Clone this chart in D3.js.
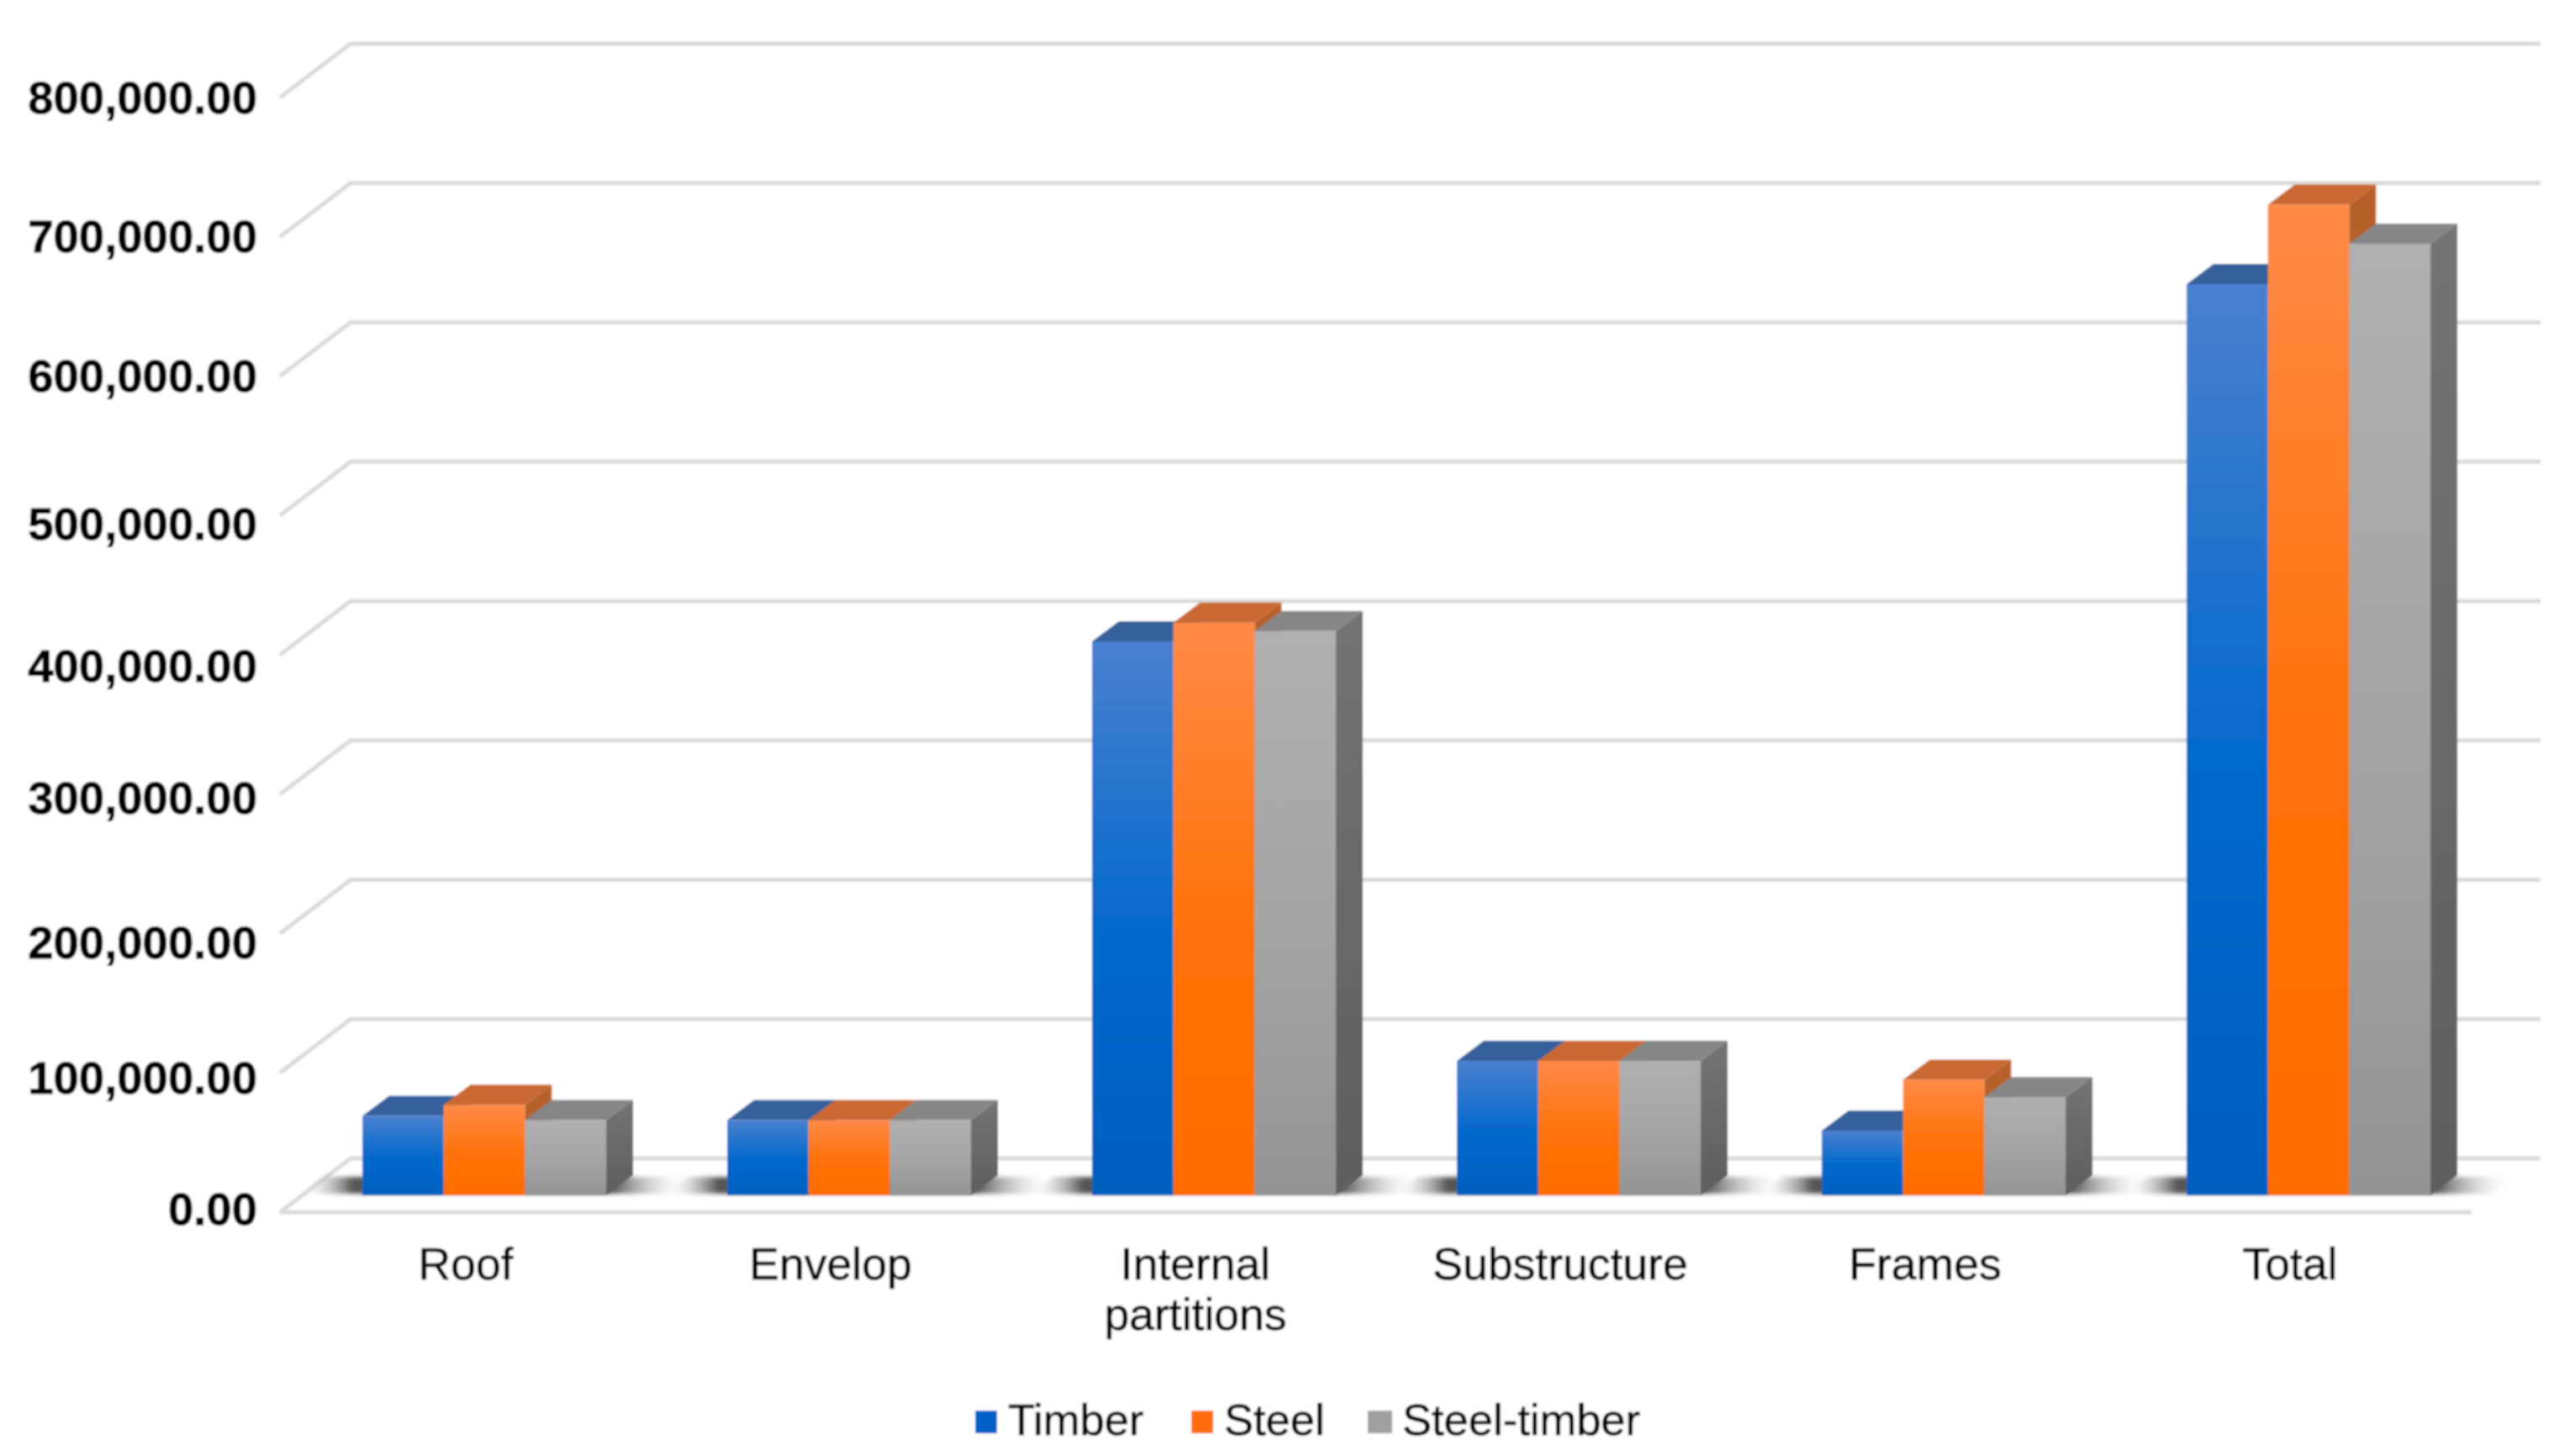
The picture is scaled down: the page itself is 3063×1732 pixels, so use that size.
<!DOCTYPE html>
<html>
<head>
<meta charset="utf-8">
<style>
  html, body { margin: 0; padding: 0; background: #fff; }
  svg { display: block; }
  text { font-family: "Liberation Sans", Arial, sans-serif; }
</style>
<script src="https://cdn.jsdelivr.net/npm/d3@7"></script>
</head>
<body>
<svg id="chart" width="3063" height="1732"></svg>
<script>
'use strict';

const categories = ['Roof', 'Envelop', 'Internal partitions', 'Substructure', 'Frames', 'Total'];
const seriesNames = ['Timber', 'Steel', 'Steel-timber'];
const timber = [57000, 54000, 397600, 96500, 46500, 654000];
const steel = [65000, 54000, 411000, 96500, 83000, 711000];
const steelTimber = [54000, 54000, 405000, 96500, 70500, 683000];
const yTicks = [0, 100000, 200000, 300000, 400000, 500000, 600000, 700000, 800000];

const seriesValues = [timber, steel, steelTimber];

// the original labels wander a bit off their gridlines
const tickLabelShift = [-3, 7, 12, 5, 14, 11, 1, 0, 1];

const colours = [
  { top: '#4a80cf', mid: '#0068cc', bottom: '#0060c0', cap: '#35609c', side: '#2a5a98', key: '#0060c8' },
  { top: '#ff8a47', mid: '#ff7208', bottom: '#ff6c00', cap: '#c96830', side: '#b8602c', key: '#ff6c10' },
  { top: '#b0b0b0', mid: '#a4a4a4', bottom: '#949494', cap: '#868686', side: '#747474', sideLow: '#5e5e5e', key: '#a0a0a0' }
];

const svg = d3.select('#chart');

// the bars stand on a plane between the front floor edge and the back wall
const x = d3.scaleBand().domain(categories).range([359, 2963]);
const y = d3.scaleLinear().domain([0, 800000]).range([1422, 96]);

const barWidth = 96.7;
const depthX = 32;
const depthY = 24;

const frontOffset = { x: -26, y: 20 };
const backOffset = { x: 58, y: -44 };
const backRight = 3022;
const frontRight = 2940;

const defs = svg.append('defs');

defs.append('filter')
    .attr('id', 'soft')
    .attr('x', 0).attr('y', 0).attr('width', 1).attr('height', 1)
    .attr('filterUnits', 'objectBoundingBox')
  .append('feGaussianBlur')
    .attr('stdDeviation', 1.3);

defs.append('filter')
    .attr('id', 'softer')
    .attr('x', -0.1).attr('y', -0.5).attr('width', 1.2).attr('height', 2)
  .append('feGaussianBlur')
    .attr('stdDeviation', 2.5);

colours.forEach((c, i) => {
  const g = defs.append('linearGradient')
      .attr('id', `front${i}`)
      .attr('x1', 0).attr('y1', 0).attr('x2', 0).attr('y2', 1);
  g.append('stop').attr('offset', 0).attr('stop-color', c.top);
  g.append('stop').attr('offset', 0.55).attr('stop-color', c.mid);
  g.append('stop').attr('offset', 1).attr('stop-color', c.bottom);

  const s = defs.append('linearGradient')
      .attr('id', `side${i}`)
      .attr('x1', 0).attr('y1', 0).attr('x2', 0).attr('y2', 1);
  s.append('stop').attr('offset', 0).attr('stop-color', c.side);
  s.append('stop').attr('offset', 1).attr('stop-color', c.sideLow || c.side);
});

const shadowGrad = defs.append('linearGradient')
    .attr('id', 'shadow')
    .attr('x1', 0).attr('y1', 0).attr('x2', 1).attr('y2', 0);
[[0, '#fff', 0], [0.14, '#555', 1], [0.8, '#555', 1], [1, '#fff', 0]].forEach(s => {
  shadowGrad.append('stop')
      .attr('offset', s[0])
      .attr('stop-color', s[1])
      .attr('stop-opacity', s[2]);
});

const chart = svg.append('g').attr('filter', 'url(#soft)');

chart.append('rect')
    .attr('width', 3063)
    .attr('height', 1732)
    .attr('fill', '#fff');

// walls
const grid = chart.append('g').attr('class', 'grid');

const gridLine = d3.line();

grid.selectAll('path')
  .data(yTicks)
  .enter()
  .append('path')
    .attr('fill', 'none')
    .attr('stroke', '#dadada')
    .attr('stroke-width', 5)
    .attr('d', d => gridLine([
      [x.range()[0] + frontOffset.x, y(d) + frontOffset.y],
      [x.range()[0] + backOffset.x, y(d) + backOffset.y],
      [backRight, y(d) + backOffset.y]
    ]));

grid.append('line')
    .attr('x1', x.range()[0] + frontOffset.x)
    .attr('x2', frontRight)
    .attr('y1', y(0) + frontOffset.y)
    .attr('y2', y(0) + frontOffset.y)
    .attr('stroke', '#dadada')
    .attr('stroke-width', 5);

// floor shadows
const barLeft = c => x(c) + x.bandwidth() / 2 - barWidth * 1.5;

chart.append('g')
  .selectAll('path')
  .data(categories)
  .enter()
  .append('path')
    .attr('fill', 'url(#shadow)')
    .attr('filter', 'url(#softer)')
    .attr('d', c => {
      const l = barLeft(c);
      const r = l + barWidth * 3;
      return gridLine([[l - 76, y(0) - 2], [l - 46, y(0) - 22], [r + 100, y(0) - 22], [r + 74, y(0) - 2]]) + 'Z';
    });

// bars
const barGroups = chart.selectAll('g.category')
  .data(categories)
  .enter()
  .append('g')
    .attr('class', 'category');

seriesNames.forEach((name, i) => {
  const bar = barGroups.append('g').attr('class', `bar ${name}`);
  const value = c => seriesValues[i][categories.indexOf(c)];
  const left = c => barLeft(c) + i * barWidth;

  bar.append('path')
      .attr('fill', `url(#side${i})`)
      .attr('d', c => gridLine([
        [left(c) + barWidth, y(value(c))],
        [left(c) + barWidth + depthX, y(value(c)) - depthY],
        [left(c) + barWidth + depthX, y(0) - depthY],
        [left(c) + barWidth, y(0)]
      ]) + 'Z');

  bar.append('path')
      .attr('fill', colours[i].cap)
      .attr('d', c => gridLine([
        [left(c), y(value(c))],
        [left(c) + depthX, y(value(c)) - depthY],
        [left(c) + barWidth + depthX, y(value(c)) - depthY],
        [left(c) + barWidth, y(value(c))]
      ]) + 'Z');

  bar.append('rect')
      .attr('x', left)
      .attr('y', c => y(value(c)))
      .attr('width', barWidth)
      .attr('height', c => y(0) - y(value(c)))
      .attr('fill', `url(#front${i})`);
});

// axes
const yAxis = chart.append('g')
    .attr('transform', `translate(306, ${frontOffset.y})`)
    .call(d3.axisLeft(y).tickValues(yTicks).tickFormat(d3.format(',.2f')).tickSize(0).tickPadding(0));

yAxis.select('.domain').remove();
yAxis.selectAll('text')
    .attr('font-family', '"Liberation Sans", Arial, sans-serif')
    .attr('font-size', 54.5)
    .attr('font-weight', 700)
    .attr('fill', '#000')
    .attr('stroke', '#000')
    .attr('stroke-width', 0.8)
    .attr('transform', (d, i) => `translate(0, ${tickLabelShift[i]})`);

const xAxis = chart.append('g')
    .attr('transform', `translate(-22, ${y(0) + frontOffset.y})`)
    .call(d3.axisBottom(x).tickSize(0).tickPadding(0));

xAxis.select('.domain').remove();
xAxis.selectAll('text')
    .attr('font-family', '"Liberation Sans", Arial, sans-serif')
    .attr('font-size', 53.5)
    .attr('fill', '#000')
    .attr('stroke', '#000')
    .attr('stroke-width', 0.6)
    .attr('y', 80)
    .attr('dy', 0)
    .each(function(d) {
      const words = d === 'Internal partitions' ? d.split(' ') : [d];
      const text = d3.select(this).text(null);
      words.forEach((w, i) => {
        text.append('tspan')
            .attr('x', 0)
            .attr('dy', i ? 60 : 0)
            .text(w);
      });
    });

// legend
const legendKeys = [1160, 1417, 1627];

const legend = chart.append('g')
  .selectAll('g')
  .data(seriesNames)
  .enter()
  .append('g')
    .attr('transform', (d, i) => `translate(${legendKeys[i]}, 1678)`);

legend.append('rect')
    .attr('width', (d, i) => i === 2 ? 29 : 26)
    .attr('height', 27)
    .attr('fill', (d, i) => colours[i].key);

legend.append('text')
    .attr('x', (d, i) => i === 2 ? 41 : 39)
    .attr('y', 29)
    .attr('font-size', 52.5)
    .attr('fill', '#000')
    .attr('stroke', '#000')
    .attr('stroke-width', 0.6)
    .text(d => d);
</script>
</body>
</html>
